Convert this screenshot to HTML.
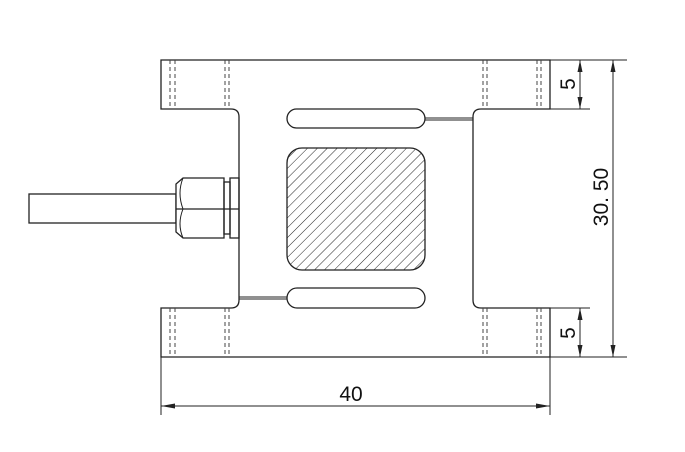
<!DOCTYPE html>
<html><head><meta charset="utf-8"><style>html,body{margin:0;padding:0;background:#fff}svg{display:block}</style></head><body>
<svg width="685" height="452" viewBox="0 0 685 452" xmlns="http://www.w3.org/2000/svg" font-family="Liberation Sans, sans-serif">
<defs>
<pattern id="h" patternUnits="userSpaceOnUse" width="7" height="7" patternTransform="rotate(45)">
<line x1="0" y1="0" x2="0" y2="7" stroke="#222" stroke-width="1"/>
</pattern>
</defs>
<g fill="none" stroke="#222" stroke-width="1.3">
<path d="M161 60 H550 V109 H481 Q473 109 473 117 V300 Q473 308 481 308 H550 V357 H161 V308 H231 Q239 308 239 300 V117 Q239 109 231 109 H161 Z" fill="#fff"/>
<rect x="287" y="109" width="138" height="19" rx="9.5"/>
<rect x="287" y="288" width="138" height="20" rx="10"/>
<line x1="425" y1="118" x2="473" y2="118" stroke-width="1"/>
<line x1="425" y1="120" x2="473" y2="120" stroke-width="1"/>
<line x1="239" y1="297" x2="287" y2="297" stroke-width="1"/>
<line x1="239" y1="299" x2="287" y2="299" stroke-width="1"/>
<rect x="287" y="148" width="138" height="122" rx="15" fill="url(#h)"/>
<rect x="29" y="194" width="147" height="29" fill="#fff"/>
<path d="M183 178 H224 V238 H183 L176 232 V184 Z" fill="#fff"/>
<line x1="176" y1="209" x2="239" y2="209"/>
<path d="M183 178 Q177 193 183 209 Q177 224 183 238" stroke-width="1"/>
<rect x="224" y="182" width="6" height="52"/>
<rect x="230" y="178" width="9" height="60"/>
</g>
<g stroke="#444" stroke-width="1" stroke-dasharray="4,3">
<line x1="170" y1="60" x2="170" y2="109"/><line x1="175" y1="60" x2="175" y2="109"/>
<line x1="225" y1="60" x2="225" y2="109"/><line x1="229" y1="60" x2="229" y2="109"/>
<line x1="483" y1="60" x2="483" y2="109"/><line x1="487" y1="60" x2="487" y2="109"/>
<line x1="537" y1="60" x2="537" y2="109"/><line x1="541" y1="60" x2="541" y2="109"/>
<line x1="170" y1="308" x2="170" y2="357"/><line x1="175" y1="308" x2="175" y2="357"/>
<line x1="225" y1="308" x2="225" y2="357"/><line x1="229" y1="308" x2="229" y2="357"/>
<line x1="483" y1="308" x2="483" y2="357"/><line x1="487" y1="308" x2="487" y2="357"/>
<line x1="537" y1="308" x2="537" y2="357"/><line x1="541" y1="308" x2="541" y2="357"/>
</g>
<g stroke="#222" stroke-width="1" fill="none">
<line x1="550" y1="60" x2="627" y2="60"/>
<line x1="550" y1="109" x2="590" y2="109"/>
<line x1="550" y1="308" x2="590" y2="308"/>
<line x1="550" y1="357" x2="627" y2="357"/>
<line x1="580" y1="60" x2="580" y2="109"/>
<line x1="580" y1="308" x2="580" y2="357"/>
<line x1="613" y1="60" x2="613" y2="357"/>
<line x1="161" y1="357" x2="161" y2="415"/>
<line x1="550" y1="357" x2="550" y2="415"/>
<line x1="161" y1="406" x2="550" y2="406"/>
</g>
<g fill="#222">
<path d="M580 60 L577.5 72 L582.5 72 Z"/><path d="M580 109 L577.5 97 L582.5 97 Z"/>
<path d="M580 308 L577.5 320 L582.5 320 Z"/><path d="M580 357 L577.5 345 L582.5 345 Z"/>
<path d="M613 60 L610.5 72 L615.5 72 Z"/><path d="M613 357 L610.5 345 L615.5 345 Z"/>
<path d="M161 406 L175 403.5 L175 408.5 Z"/><path d="M550 406 L536 403.5 L536 408.5 Z"/>
</g>
<g fill="#111" font-size="21">
<text x="351" y="401" text-anchor="middle">40</text>
<text transform="translate(575 84) rotate(-90)" text-anchor="middle">5</text>
<text transform="translate(575 333) rotate(-90)" text-anchor="middle">5</text>
<text transform="translate(608 197) rotate(-90)" text-anchor="middle">30. 50</text>
</g>
</svg>
</body></html>
